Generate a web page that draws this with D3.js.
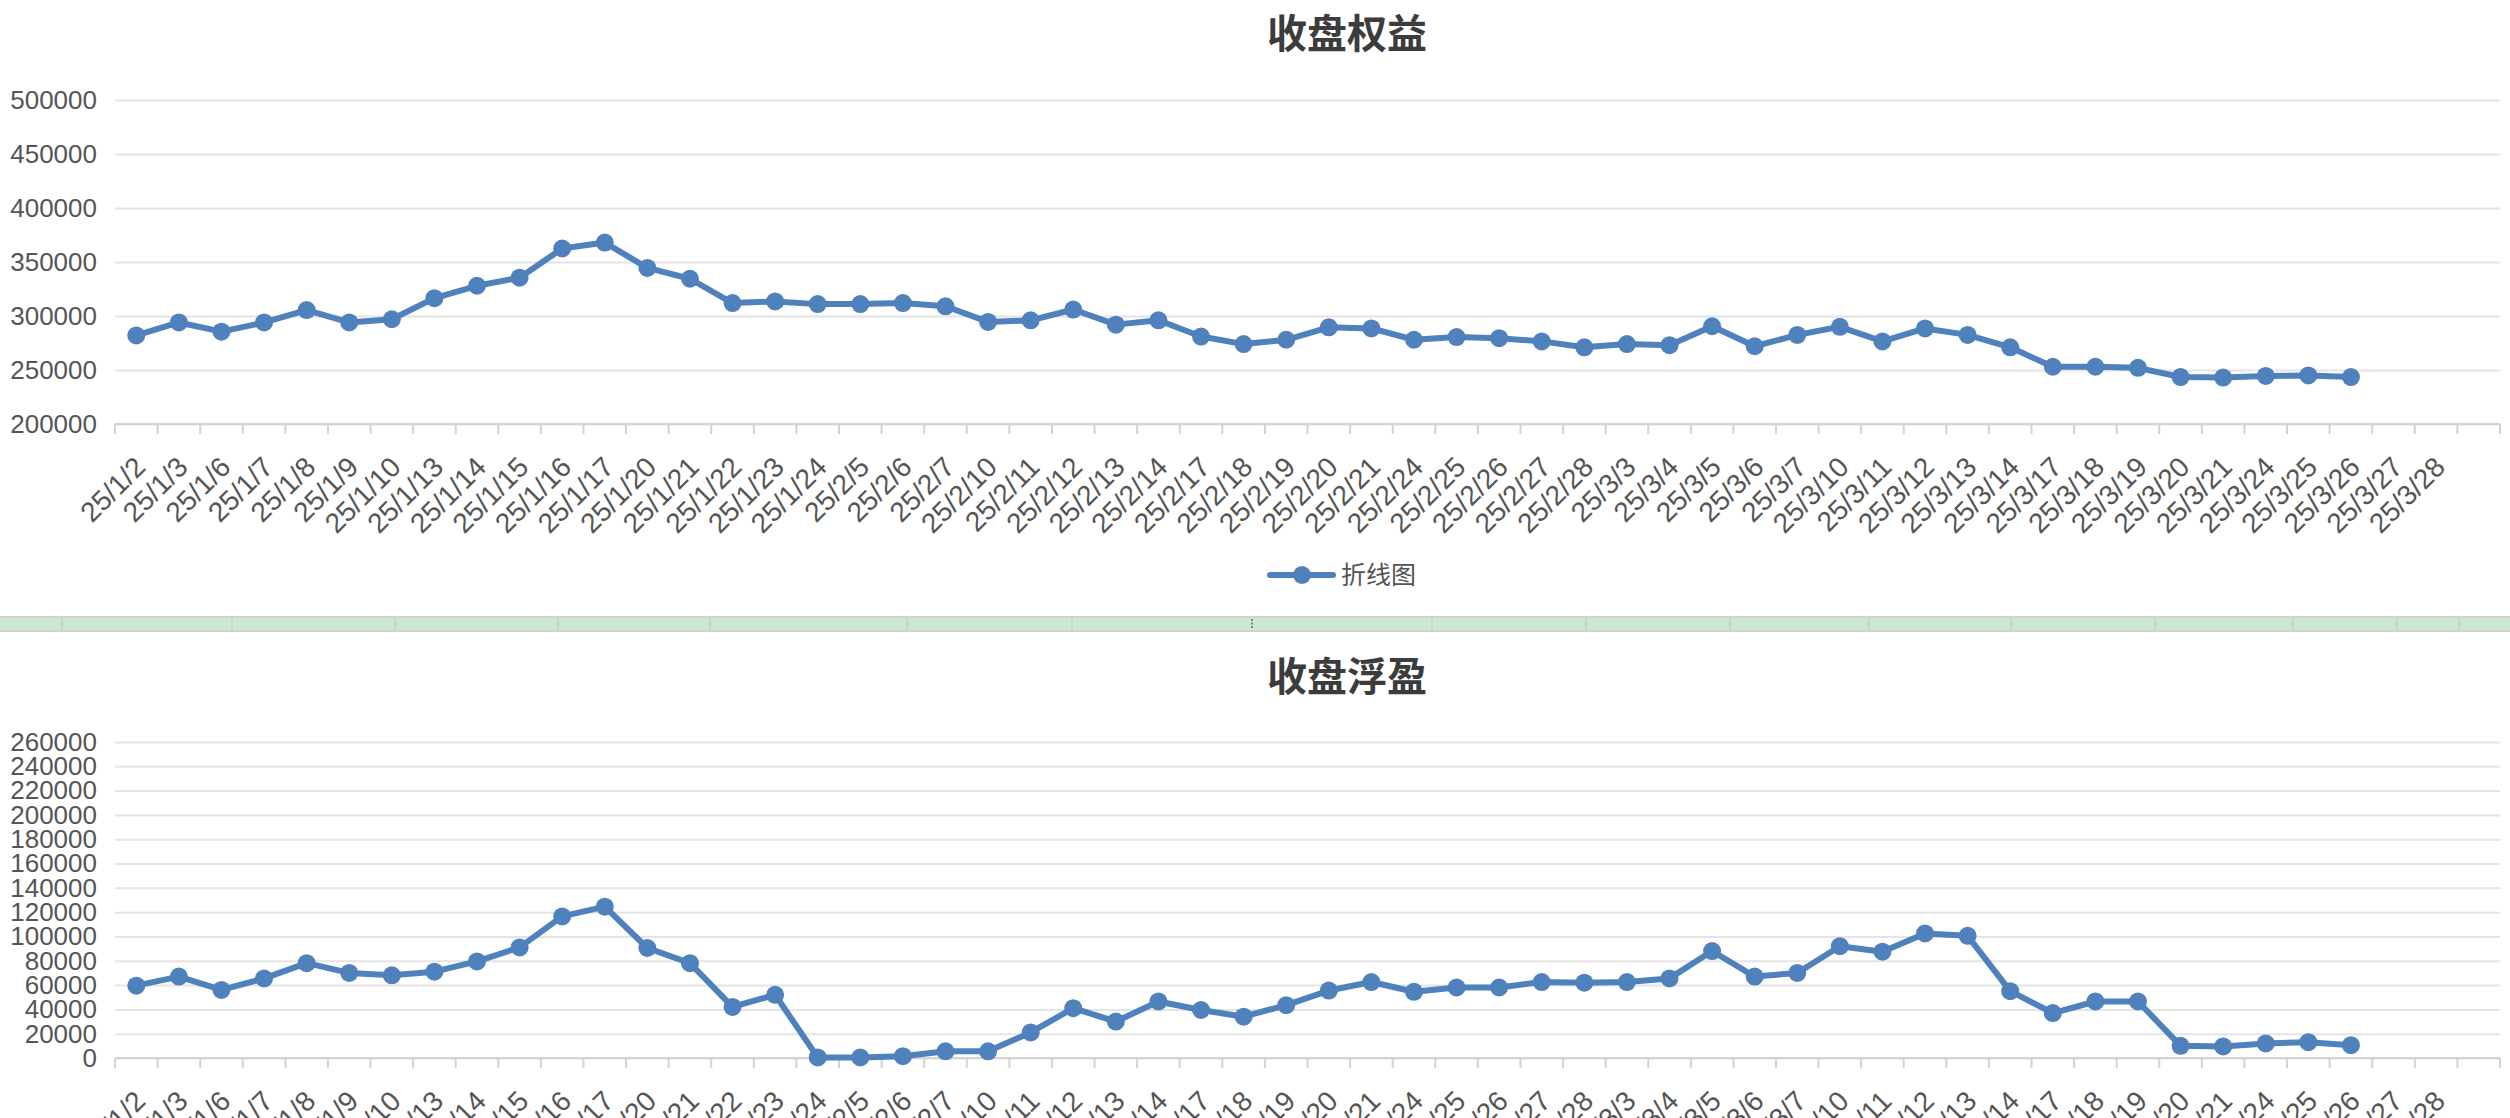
<!DOCTYPE html>
<html>
<head>
<meta charset="utf-8">
<script src="https://cdn.jsdelivr.net/npm/d3@7"></script>
<style>
  body { margin: 0; background: #fff; }
  text { font-family: "Liberation Sans", "Noto Sans CJK SC", sans-serif; }
</style>
</head>
<body>
<div id="chart"></div>
<script>
// categories (last slot is left blank in the original)
const dates = [
  "25/1/2", "25/1/3", "25/1/6", "25/1/7", "25/1/8", "25/1/9", "25/1/10", "25/1/13", "25/1/14", "25/1/15",
  "25/1/16", "25/1/17", "25/1/20", "25/1/21", "25/1/22", "25/1/23", "25/1/24", "25/2/5", "25/2/6", "25/2/7",
  "25/2/10", "25/2/11", "25/2/12", "25/2/13", "25/2/14", "25/2/17", "25/2/18", "25/2/19", "25/2/20", "25/2/21",
  "25/2/24", "25/2/25", "25/2/26", "25/2/27", "25/2/28", "25/3/3", "25/3/4", "25/3/5", "25/3/6", "25/3/7",
  "25/3/10", "25/3/11", "25/3/12", "25/3/13", "25/3/14", "25/3/17", "25/3/18", "25/3/19", "25/3/20", "25/3/21",
  "25/3/24", "25/3/25", "25/3/26", "25/3/27", "25/3/28", ""
];

// 收盘权益
const equity = [
  282000, 294000, 285500, 294000, 305500, 294000, 297000, 316500, 328000, 335500,
  362500, 368000, 344500, 334500, 312000, 313500, 311000, 311000, 312000, 309000,
  294500, 296000, 306000, 292000, 296000, 281000, 274000, 278000, 289500, 288500,
  278000, 280500, 279500, 276500, 271000, 274000, 273000, 290500, 272000, 282500,
  290000, 276500, 288500, 282500, 271000, 253000, 253000, 252000, 243500, 243000,
  244500, 245000, 243500
];

// 收盘浮盈
const floatPL = [
  59500, 67000, 56000, 65500, 78000, 70000, 68000, 71000, 79500, 91000,
  116500, 124500, 90500, 78000, 42000, 52000, 500, 500, 1500, 5500,
  5500, 21000, 41000, 30000, 46500, 39500, 34000, 43500, 55500, 62500,
  54500, 58000, 58000, 62500, 62000, 62500, 65500, 88000, 67000, 70000,
  92000, 87500, 102500, 100500, 55000, 37000, 46500, 46500, 10000, 9500,
  12000, 13000, 10500
];

const equityTicks = [200000, 250000, 300000, 350000, 400000, 450000, 500000];
const floatTicks = [0, 20000, 40000, 60000, 80000, 100000, 120000, 140000, 160000, 180000, 200000, 220000, 240000, 260000];

// spreadsheet separator strip dividers
const stripDividers = [62, 232, 395, 558, 710, 907, 1072, 1432, 1586, 1730, 1869, 2011, 2155, 2293, 2397, 2459];

const W = 2510, H = 1118;
const lineColor = "#4f81bd";

let svg = d3.select("#chart").append("svg")
    .attr("width", W)
    .attr("height", H);

svg.append("rect").attr("width", W).attr("height", H).attr("fill", "#fff");

function drawChart(opt) {
    let g = svg.append("g");

    let x = d3.scaleBand()
        .domain(dates)
        .range([115, 2500]);

    let y = d3.scaleLinear()
        .domain([opt.ticks[0], opt.ticks[opt.ticks.length - 1]])
        .range([opt.bottom, opt.top]);

    // title
    g.append("text")
        .attr("x", 1347)
        .attr("y", opt.titleY)
        .attr("text-anchor", "middle")
        .attr("dominant-baseline", "central")
        .attr("font-size", 40)
        .attr("font-weight", "bold")
        .attr("fill", "#3c3c3c")
        .text(opt.title);

    // gridlines + y labels
    let yAxis = g.append("g")
        .attr("transform", "translate(115,0)")
        .call(d3.axisLeft(y).tickValues(opt.ticks).tickSize(-(2500 - 115)).tickPadding(18).tickFormat(d3.format("d")));
    yAxis.select(".domain").remove();
    yAxis.selectAll(".tick line")
        .attr("stroke", "#e4e4e4")
        .attr("stroke-width", 2);
    yAxis.selectAll(".tick text")
        .attr("font-size", 26)
        .attr("fill", "#555");

    // x axis line
    g.append("line")
        .attr("x1", 115).attr("x2", 2500)
        .attr("y1", opt.bottom).attr("y2", opt.bottom)
        .attr("stroke", "#d3d3d3")
        .attr("stroke-width", 2);

    // boundary ticks
    let bounds = dates.map(d => x(d)).concat([x.range()[1]]);
    g.selectAll(".xtick")
        .data(bounds)
        .enter().append("line")
        .attr("x1", d => d).attr("x2", d => d)
        .attr("y1", opt.bottom).attr("y2", opt.bottom + 10)
        .attr("stroke", "#d3d3d3")
        .attr("stroke-width", 2);

    // rotated category labels
    g.selectAll(".xlabel")
        .data(dates)
        .enter().append("text")
        .attr("transform", d => "translate(" + (x(d) + x.bandwidth() / 2 + 4) + "," + (opt.bottom + 38) + ") rotate(-45)")
        .attr("text-anchor", "end")
        .attr("dominant-baseline", "central")
        .attr("font-size", 28)
        .attr("fill", "#555")
        .text(d => d);

    let pts = opt.values.map((v, i) => ({cat: dates[i], v: v}));

    g.append("path")
        .datum(pts)
        .attr("fill", "none")
        .attr("stroke", lineColor)
        .attr("stroke-width", 6)
        .attr("stroke-linejoin", "round")
        .attr("d", d3.line()
            .x(d => x(d.cat) + x.bandwidth() / 2)
            .y(d => y(d.v)));

    g.selectAll(".pt")
        .data(pts)
        .enter().append("circle")
        .attr("cx", d => x(d.cat) + x.bandwidth() / 2)
        .attr("cy", d => y(d.v))
        .attr("r", 9)
        .attr("fill", lineColor);
}

drawChart({title: "收盘权益", titleY: 34, top: 100, bottom: 424, ticks: equityTicks, values: equity});
drawChart({title: "收盘浮盈", titleY: 677, top: 742, bottom: 1058, ticks: floatTicks, values: floatPL});

// legend for the top chart
let legend = svg.append("g").attr("transform", "translate(1270,575)");
legend.append("line")
    .attr("x1", 0).attr("x2", 63)
    .attr("stroke", lineColor)
    .attr("stroke-width", 6)
    .attr("stroke-linecap", "round");
legend.append("circle")
    .attr("cx", 32).attr("r", 9)
    .attr("fill", lineColor);
legend.append("text")
    .attr("x", 71)
    .attr("dominant-baseline", "central")
    .attr("font-size", 25)
    .attr("fill", "#555")
    .text("折线图");

// green separator strip between the two charts
let strip = svg.append("g");
strip.append("rect")
    .attr("x", -2).attr("y", 617)
    .attr("width", W + 4).attr("height", 14)
    .attr("fill", "#cde7d1")
    .attr("stroke", "#d2d2d2")
    .attr("stroke-width", 2);
strip.selectAll(".div")
    .data(stripDividers)
    .enter().append("line")
    .attr("x1", d => d).attr("x2", d => d)
    .attr("y1", 618).attr("y2", 630)
    .attr("stroke", "#c8c8c8")
    .attr("stroke-width", 1.5);
strip.append("line")
    .attr("x1", 1252).attr("x2", 1252)
    .attr("y1", 619).attr("y2", 629)
    .attr("stroke", "#666")
    .attr("stroke-width", 1.5)
    .attr("stroke-dasharray", "2,1.5");
</script>
</body>
</html>
